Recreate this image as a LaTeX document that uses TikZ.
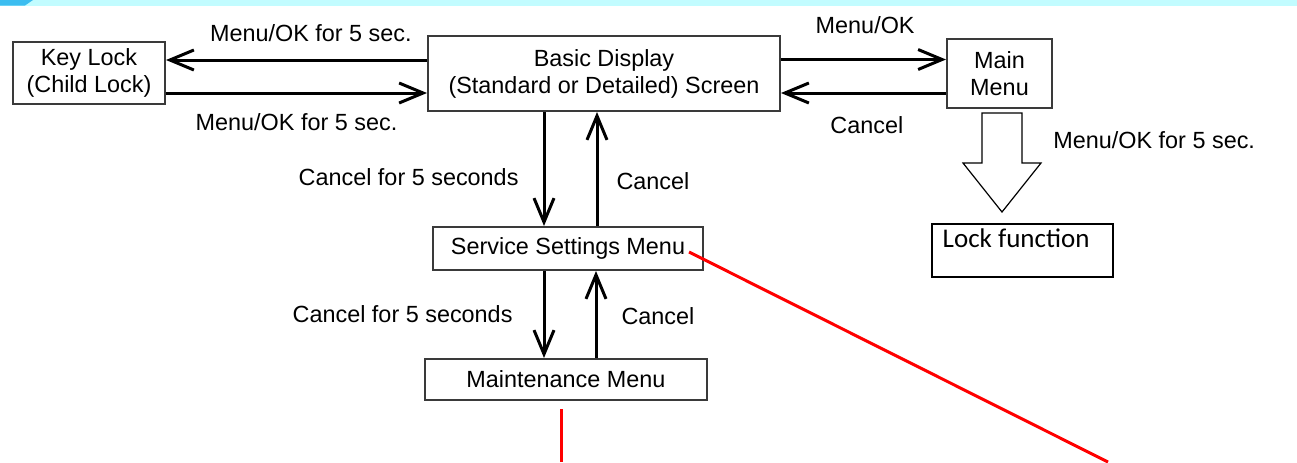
\documentclass[tikz,border=0pt]{standalone}
\usepackage{fontspec}
\setmainfont{Liberation Sans}
\newfontfamily\calibrifont{Carlito}
\usetikzlibrary{arrows.meta,calc,positioning}

\definecolor{boxgray}{HTML}{3A3A3A}
\definecolor{bandcyan}{HTML}{C2FCFF}
\definecolor{bandblue}{HTML}{3CBDF0}

\tikzset{
  menubox/.style={draw=boxgray, line width=1pt, fill=white, align=center,
    inner sep=0pt, font=\fontsize{11.7}{13.5}\selectfont},
  lockbox/.style={draw=black, line width=0.7pt, fill=white, inner sep=0pt},
  arr/.style={line width=1.5pt, -{Straight Barb[length=12pt,width=10pt]}},
  lbl/.style={inner sep=0pt, font=\fontsize{11.7}{13.5}\selectfont},
  hollow/.style={draw=black, line width=0.6pt, fill=white, line join=miter},
  note/.style={red, line width=1.5pt},
}

\begin{document}
\begin{tikzpicture}[x=0.5pt, y=-0.5pt]
    \useasboundingbox (0,0) rectangle (1297,462);

    % header strip
    \fill[bandcyan] (0,0) rectangle (1297,5.5);
    \fill[bandblue] (0,0) -- (33,0) -- (25,5.5) -- (0,5.5) -- cycle;

    % menu boxes
    \node[menubox, minimum width=76pt, minimum height=31pt] (keylock) at (89,73) {Key Lock\\(Child Lock)};
    \node[menubox, minimum width=176pt, minimum height=37.5pt] (basic) at (604,73.5) {Basic Display\\(Standard or Detailed) Screen};
    \node[menubox, minimum width=52.5pt, minimum height=34.5pt] (mainmenu) at (999.5,73.5) {Main\\Menu};
    \node[menubox, minimum width=135pt, minimum height=21.5pt] (service) at (568,248.5) {Service Settings Menu};
    \node[menubox, minimum width=141pt, minimum height=20.5pt] (maint) at (566,379.5) {Maintenance Menu};
    \node[lockbox, minimum width=90.5pt, minimum height=26.5pt] (lockfn) at (1022.5,250.5) {};
    \node[anchor=base west, inner sep=0pt, font=\calibrifont\fontsize{13.5}{16}\selectfont]
        (lockfntext) at ($(lockfn.north west)+(11,24)$) {Lock function};

    % key lock <-> basic display
    \draw[arr] ($(basic.west)+(0,-13.5)$) coordinate (kl1)
        -- node[lbl, above=8.5pt, pos=.445] {Menu/OK for 5 sec.} (kl1 -| keylock.east);
    \draw[arr] ($(keylock.east)+(0,20)$) coordinate (kl2)
        -- node[lbl, below=9.5pt, pos=.5] {Menu/OK for 5 sec.} (kl2 -| basic.west);

    % basic display <-> main menu
    \draw[arr] ($(basic.east)+(0,-14)$) coordinate (mm1)
        -- node[lbl, above=12pt, pos=.51] {Menu/OK} (mm1 -| mainmenu.west);
    \draw[arr] ($(mainmenu.west)+(0,19.5)$) coordinate (mm2)
        -- node[lbl, below=11pt, pos=.48] {Cancel} (mm2 -| basic.east);

    % basic display <-> service settings
    \draw[arr] ([xshift=-30pt]basic.south)
        -- node[lbl, left=12pt, pos=.57] {Cancel for 5 seconds} ([xshift=-30pt]basic.south |- service.north);
    \draw[arr] ([xshift=-3.5pt]basic.south |- service.north)
        -- node[lbl, right=9pt, pos=.39] {Cancel} ([xshift=-3.5pt]basic.south);

    % service settings <-> maintenance
    \draw[arr] ([xshift=-12pt]service.south)
        -- node[lbl, left=15pt, pos=.5] {Cancel for 5 seconds} ([xshift=-12pt]service.south |- maint.north);
    \draw[arr] ([xshift=14pt]service.south |- maint.north)
        -- node[lbl, right=12pt, pos=.48] {Cancel} ([xshift=14pt]service.south);

    % block arrow main menu -> lock function
    \draw[hollow] ($(mainmenu.south)+(-17.5,4)$) coordinate (shaft)
        -- ++(40,0) -- ++(0,50) -- ++(19,0) -- ++(-39,49) -- ++(-39,-49) -- ++(19,0) -- cycle;
    \node[lbl, anchor=base west] (locklbl) at ($(shaft)+(71,35)$) {Menu/OK for 5 sec.};

    % red call-out lines
    \coordinate (cut1) at (561,462);
    \coordinate (cut2) at (1108,462);
    \draw[note] ($(maint.south)+(-5,8)$) -- (cut1);
    \draw[note] ($(service.east)+(-15,3.5)$) -- (cut2);

\end{tikzpicture}
\end{document}
